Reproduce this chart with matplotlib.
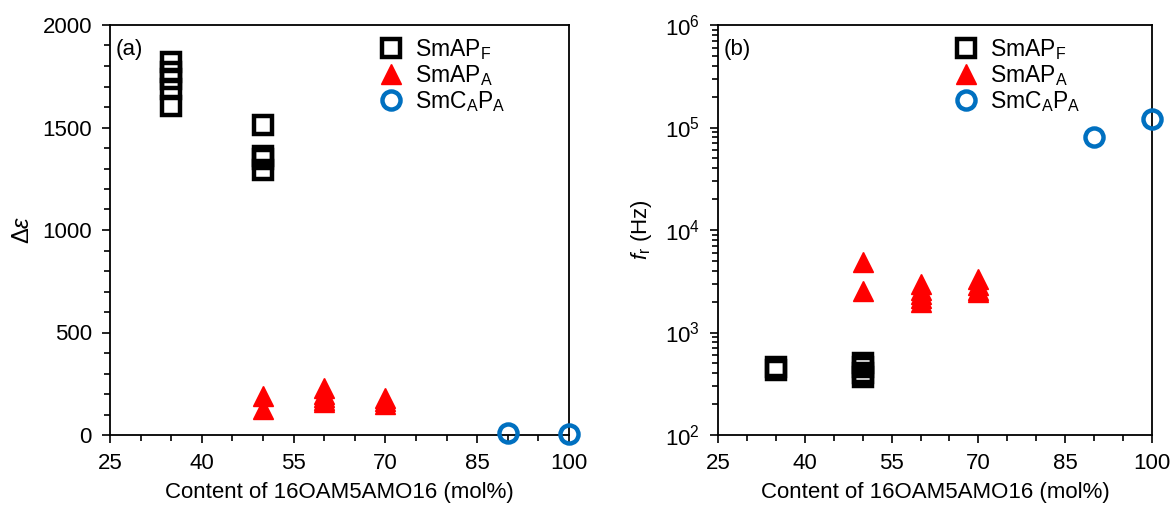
import matplotlib
matplotlib.use("Agg")
import matplotlib.pyplot as plt
from matplotlib.ticker import MultipleLocator, LogLocator, LogFormatterMathtext, NullFormatter

plt.rcParams['font.family'] = ['Liberation Sans', 'DejaVu Sans']
plt.rcParams['mathtext.fontset'] = 'custom'
plt.rcParams['mathtext.rm'] = 'Liberation Sans'
plt.rcParams['mathtext.it'] = 'Liberation Sans:italic'
plt.rcParams['mathtext.bf'] = 'Liberation Sans:bold'

# ---- data ----
# panel (a): dielectric strength
apf_x_a = [35, 35, 35, 35, 35, 50, 50, 50, 50]
apf_y_a = [1818, 1772, 1735, 1686, 1603, 1510, 1362, 1345, 1295]
apa_x_a = [50, 50, 60, 60, 60, 60, 60, 70, 70, 70]
apa_y_a = [192, 128, 230, 200, 185, 172, 160, 182, 165, 152]
cap_x_a = [90, 100]
cap_y_a = [8, 6]

# panel (b): relaxation frequency (Hz)
apf_x_b = [35, 35, 50, 50, 50, 50]
apf_y_b = [460, 430, 500, 460, 400, 370]
apa_x_b = [50, 50, 60, 60, 60, 60, 60, 70, 70, 70, 70]
apa_y_b = [4840, 2540, 3000, 2600, 2350, 2150, 2000, 3300, 2900, 2600, 2500]
cap_x_b = [90, 100]
cap_y_b = [80700, 121000]

labels = ['SmAP$_\\mathregular{F}$', 'SmAP$_\\mathregular{A}$', 'SmC$_\\mathregular{A}$P$_\\mathregular{A}$']
xticks = [25, 40, 55, 70, 85, 100]

RED = '#FF0000'
BLUE = '#0070C0'
FS = 16

fig = plt.figure(figsize=(11.71, 5.07), dpi=100)
ax1 = fig.add_axes([110/1171, 72/507, 459/1171, 410/507])
ax2 = fig.add_axes([718/1171, 72/507, 434/1171, 410/507])

sq = dict(marker='s', linestyle='none', markersize=13, markerfacecolor='none',
          markeredgecolor='black', markeredgewidth=3.2)
tri = dict(marker='^', linestyle='none', markersize=15, color=RED)
cir = dict(marker='o', linestyle='none', markersize=13, markerfacecolor='none',
           markeredgecolor=BLUE, markeredgewidth=3.2)

for ax, d, lx in ((ax1, (apf_x_a, apf_y_a, apa_x_a, apa_y_a, cap_x_a, cap_y_a), 0.553),
                  (ax2, (apf_x_b, apf_y_b, apa_x_b, apa_y_b, cap_x_b, cap_y_b), 0.507)):
    h1, = ax.plot(d[0], d[1], label=labels[0], clip_on=False, **sq)
    h2, = ax.plot(d[2], d[3], label=labels[1], clip_on=False, **tri)
    h3, = ax.plot(d[4], d[5], label=labels[2], clip_on=False, zorder=5, **cir)
    ax.set_xlim(25, 100)
    ax.set_xticks(xticks)
    ax.xaxis.set_minor_locator(MultipleLocator(5))
    for s in ax.spines.values():
        s.set_linewidth(1.3)
    ax.tick_params(which='both', direction='out', width=1.2, labelsize=FS, pad=7)
    ax.tick_params(which='major', length=6)
    ax.tick_params(which='minor', length=4)
    ax.set_xlabel('Content of 16OAM5AMO16 (mol%)', fontsize=FS, labelpad=6)
    leg = ax.legend(handles=[h1, h2, h3], loc='upper left', bbox_to_anchor=(lx, 1.01),
                    frameon=False, fontsize=16.5, handlelength=1.0, handletextpad=0.55,
                    labelspacing=0.05, borderaxespad=0.3)

ax1.set_ylim(0, 2000)
ax1.yaxis.set_major_locator(MultipleLocator(500))
ax1.yaxis.set_minor_locator(MultipleLocator(100))
ax1.set_ylabel('Δ$\\mathit{ε}$', fontsize=17, labelpad=6)
ax1.text(0.012, 0.965, '(a)', transform=ax1.transAxes, fontsize=FS, va='top', ha='left')

ax2.set_yscale('log')
ax2.set_ylim(1e2, 1e6)
ax2.yaxis.set_major_locator(LogLocator(base=10, numticks=10))
ax2.yaxis.set_major_formatter(LogFormatterMathtext())
ax2.yaxis.set_minor_locator(LogLocator(base=10, subs=range(2, 10), numticks=20))
ax2.yaxis.set_minor_formatter(NullFormatter())
ax2.set_ylabel('$\\mathit{f}_\\mathregular{r}$ (Hz)', fontsize=FS, labelpad=8)
ax2.text(0.012, 0.965, '(b)', transform=ax2.transAxes, fontsize=FS, va='top', ha='left')

fig.savefig('out.png', dpi=100)
